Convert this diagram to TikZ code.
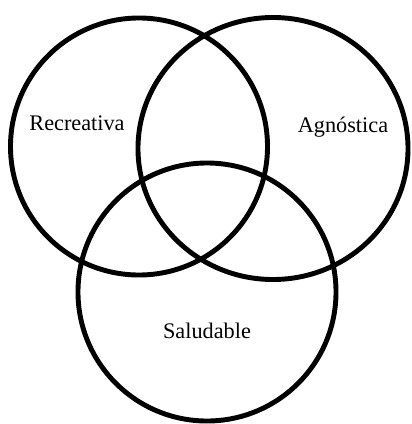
\documentclass[tikz,border=0pt]{standalone}
\usepackage{fontspec}
\setmainfont{Liberation Serif}
\usepackage{tikz}
\usetikzlibrary{shapes.geometric}
\tikzstyle{conjunto} = [circle, draw=black, line width=4.2pt, inner sep=0pt]
\tikzstyle{conjuntoancho} = [ellipse, draw=black, line width=4.2pt, inner sep=0pt]
\tikzstyle{etiqueta} = [anchor=base, inner sep=0pt, font=\fontsize{19}{22}\selectfont]

\begin{document}
\begin{tikzpicture}[x=0.03cm, y=-0.03cm]
    \useasboundingbox (0,0) rectangle (411,424);
    % los tres conjuntos
    \node (recreativa) [conjunto, minimum size=7.71cm] at (139,146.5) {};
    \node (agnostica) [conjuntoancho, minimum width=8.1cm, minimum height=7.86cm] at (273,148.5) {};
    \node (saludable) [conjunto, minimum size=7.74cm] at (207,292) {};

    \node (txtrec) [etiqueta] at (77,130) {Recreativa};
    \node (txtagn) [etiqueta] at (343,132) {Agnóstica};
    \node (txtsal) [etiqueta] at (207,338) {Saludable};
\end{tikzpicture}
\end{document}
